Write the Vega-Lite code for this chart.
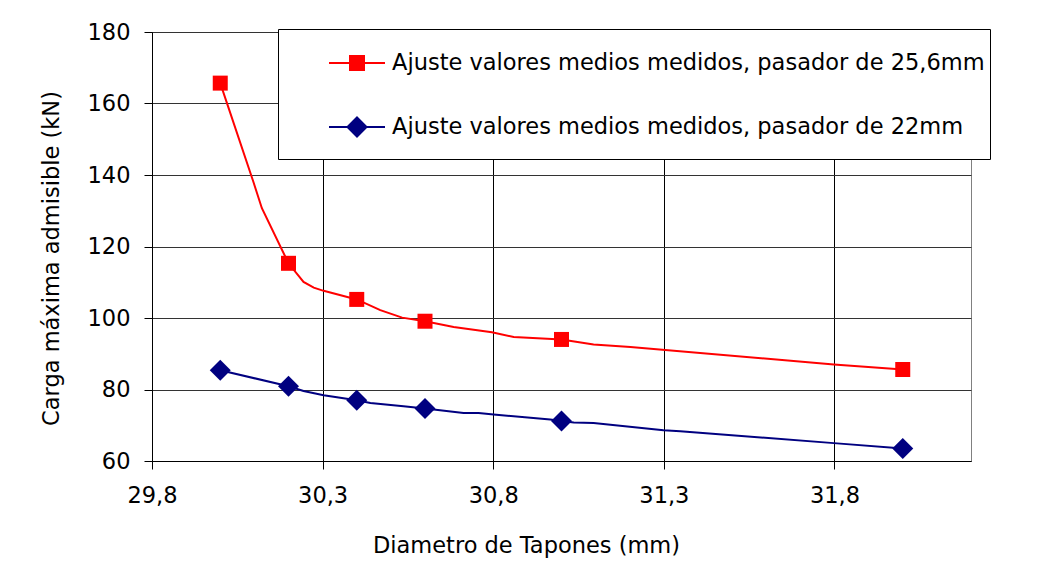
{
  "$schema": "https://vega.github.io/schema/vega-lite/v6.json",
  "width": 819,
  "height": 429,
  "autosize": {"type": "none"},
  "padding": {"left": 152, "top": 32, "right": 68, "bottom": 122},
  "background": "white",
  "config": {
    "font": "DejaVu Sans",
    "view": {"stroke": "#808080", "strokeWidth": 1},
    "axis": {
      "labelFont": "DejaVu Sans",
      "labelFontSize": 22.5,
      "labelColor": "black",
      "titleFont": "DejaVu Sans",
      "titleFontSize": 22.5,
      "titleFontWeight": "normal",
      "titleColor": "black",
      "domainColor": "black",
      "tickColor": "black",
      "gridColor": "black",
      "gridOpacity": 1,
      "tickSize": 8
    }
  },
  "datasets": {
    "curve": [
      {"series": "Ajuste valores medios medidos, pasador de 25,6mm", "d": 30.0, "carga": 165.7},
      {"series": "Ajuste valores medios medidos, pasador de 25,6mm", "d": 30.097, "carga": 138.1},
      {"series": "Ajuste valores medios medidos, pasador de 25,6mm", "d": 30.122, "carga": 130.7},
      {"series": "Ajuste valores medios medidos, pasador de 25,6mm", "d": 30.2, "carga": 115.3},
      {"series": "Ajuste valores medios medidos, pasador de 25,6mm", "d": 30.244, "carga": 110.1},
      {"series": "Ajuste valores medios medidos, pasador de 25,6mm", "d": 30.274, "carga": 108.5},
      {"series": "Ajuste valores medios medidos, pasador de 25,6mm", "d": 30.303, "carga": 107.6},
      {"series": "Ajuste valores medios medidos, pasador de 25,6mm", "d": 30.4, "carga": 105.2},
      {"series": "Ajuste valores medios medidos, pasador de 25,6mm", "d": 30.469, "carga": 102.2},
      {"series": "Ajuste valores medios medidos, pasador de 25,6mm", "d": 30.533, "carga": 100.1},
      {"series": "Ajuste valores medios medidos, pasador de 25,6mm", "d": 30.6, "carga": 99.1},
      {"series": "Ajuste valores medios medidos, pasador de 25,6mm", "d": 30.684, "carga": 97.5},
      {"series": "Ajuste valores medios medidos, pasador de 25,6mm", "d": 30.796, "carga": 96.0},
      {"series": "Ajuste valores medios medidos, pasador de 25,6mm", "d": 30.86, "carga": 94.7},
      {"series": "Ajuste valores medios medidos, pasador de 25,6mm", "d": 31.0, "carga": 94.0},
      {"series": "Ajuste valores medios medidos, pasador de 25,6mm", "d": 31.094, "carga": 92.6},
      {"series": "Ajuste valores medios medidos, pasador de 25,6mm", "d": 31.202, "carga": 91.9},
      {"series": "Ajuste valores medios medidos, pasador de 25,6mm", "d": 31.798, "carga": 87.0},
      {"series": "Ajuste valores medios medidos, pasador de 25,6mm", "d": 32.0, "carga": 85.6},
      {"series": "Ajuste valores medios medidos, pasador de 22mm", "d": 30.0, "carga": 85.4},
      {"series": "Ajuste valores medios medidos, pasador de 22mm", "d": 30.2, "carga": 80.9},
      {"series": "Ajuste valores medios medidos, pasador de 22mm", "d": 30.244, "carga": 79.6},
      {"series": "Ajuste valores medios medidos, pasador de 22mm", "d": 30.303, "carga": 78.4},
      {"series": "Ajuste valores medios medidos, pasador de 22mm", "d": 30.4, "carga": 77.0},
      {"series": "Ajuste valores medios medidos, pasador de 22mm", "d": 30.44, "carga": 76.2},
      {"series": "Ajuste valores medios medidos, pasador de 22mm", "d": 30.537, "carga": 75.3},
      {"series": "Ajuste valores medios medidos, pasador de 22mm", "d": 30.6, "carga": 74.7},
      {"series": "Ajuste valores medios medidos, pasador de 22mm", "d": 30.713, "carga": 73.4},
      {"series": "Ajuste valores medios medidos, pasador de 22mm", "d": 30.757, "carga": 73.4},
      {"series": "Ajuste valores medios medidos, pasador de 22mm", "d": 30.801, "carga": 73.0},
      {"series": "Ajuste valores medios medidos, pasador de 22mm", "d": 30.967, "carga": 71.6},
      {"series": "Ajuste valores medios medidos, pasador de 22mm", "d": 31.0, "carga": 71.2},
      {"series": "Ajuste valores medios medidos, pasador de 22mm", "d": 31.036, "carga": 70.8},
      {"series": "Ajuste valores medios medidos, pasador de 22mm", "d": 31.094, "carga": 70.6},
      {"series": "Ajuste valores medios medidos, pasador de 22mm", "d": 31.299, "carga": 68.6},
      {"series": "Ajuste valores medios medidos, pasador de 22mm", "d": 31.348, "carga": 68.3},
      {"series": "Ajuste valores medios medidos, pasador de 22mm", "d": 31.798, "carga": 65.0},
      {"series": "Ajuste valores medios medidos, pasador de 22mm", "d": 32.0, "carga": 63.5}
    ],
    "measured": [
      {"series": "Ajuste valores medios medidos, pasador de 25,6mm", "d": 30.0, "carga": 165.7},
      {"series": "Ajuste valores medios medidos, pasador de 25,6mm", "d": 30.2, "carga": 115.3},
      {"series": "Ajuste valores medios medidos, pasador de 25,6mm", "d": 30.4, "carga": 105.2},
      {"series": "Ajuste valores medios medidos, pasador de 25,6mm", "d": 30.6, "carga": 99.1},
      {"series": "Ajuste valores medios medidos, pasador de 25,6mm", "d": 31.0, "carga": 94.0},
      {"series": "Ajuste valores medios medidos, pasador de 25,6mm", "d": 32.0, "carga": 85.6},
      {"series": "Ajuste valores medios medidos, pasador de 22mm", "d": 30.0, "carga": 85.4},
      {"series": "Ajuste valores medios medidos, pasador de 22mm", "d": 30.2, "carga": 80.9},
      {"series": "Ajuste valores medios medidos, pasador de 22mm", "d": 30.4, "carga": 77.0},
      {"series": "Ajuste valores medios medidos, pasador de 22mm", "d": 30.6, "carga": 74.7},
      {"series": "Ajuste valores medios medidos, pasador de 22mm", "d": 31.0, "carga": 71.2},
      {"series": "Ajuste valores medios medidos, pasador de 22mm", "d": 32.0, "carga": 63.5}
    ]
  },
  "encoding": {
    "x": {
      "field": "d",
      "type": "quantitative",
      "title": "Diametro de Tapones (mm)",
      "scale": {"domain": [29.8, 32.2], "nice": false, "zero": false},
      "axis": {
        "values": [29.8, 30.3, 30.8, 31.3, 31.8],
        "labelExpr": "replace(format(datum.value, '.1f'), '.', ',')",
        "labelPadding": 15,
        "titlePadding": 28,
        "titleX": 374,
        "labelFlush": false,
        "grid": true,
        "gridColor": "black"
      }
    },
    "y": {
      "field": "carga",
      "type": "quantitative",
      "title": "Carga máxima admisible (kN)",
      "scale": {"domain": [60, 180], "nice": false, "zero": false},
      "axis": {
        "values": [60, 80, 100, 120, 140, 160, 180],
        "labelPadding": 14,
        "titlePadding": 24,
        "titleY": 226,
        "grid": true,
        "gridColor": "#333333",
        "labelFlush": false
      }
    },
    "color": {
      "field": "series",
      "type": "nominal",
      "scale": {
        "domain": ["Ajuste valores medios medidos, pasador de 25,6mm", "Ajuste valores medios medidos, pasador de 22mm"],
        "range": ["#ff0000", "#000080"]
      },
      "legend": {
        "orient": "none",
        "legendX": 126,
        "legendY": -3,
        "title": " ",
        "titleOrient": "bottom",
        "titleFontSize": 10,
        "titlePadding": 3,
        "fillColor": "white",
        "strokeColor": "black",
        "padding": 5,
        "labelFont": "DejaVu Sans",
        "labelFontSize": 22.5,
        "labelColor": "black",
        "labelLimit": 1000,
        "labelOffset": 6,
        "symbolSize": 3136,
        "symbolOffset": 45,
        "symbolStrokeWidth": 2,
        "symbolType": "M-1,0H1M-0.25,-0.25H0.25V0.25H-0.25Z",
        "rowPadding": 23,
        "labelExpr": "datum.label + '\u00a0\u00a0\u00a0\u00a0\u00a0\u00a0\u00a0\u00a0\u00a0\u00a0\u00a0\u00a0\u00a0\u00a0'",
        "encode": {
          "symbols": {
            "update": {
              "shape": {"signal": "indexof(datum.value, '25,6') >= 0 ? 'M-1,0H1M-0.25,-0.25H0.25V0.25H-0.25Z' : 'M-1,0H1M0,-0.34L0.34,0L0,0.34L-0.34,0Z'"},
              "fill": {"signal": "indexof(datum.value, '25,6') >= 0 ? '#ff0000' : '#000080'"},
              "stroke": {"signal": "indexof(datum.value, '25,6') >= 0 ? '#ff0000' : '#000080'"},
              "strokeWidth": {"value": 2},
              "opacity": {"value": 1}
            }
          }
        }
      }
    }
  },
  "layer": [
    {
      "data": {"name": "curve"},
      "mark": {"type": "line", "strokeWidth": 2}
    },
    {
      "data": {"name": "measured"},
      "mark": {"type": "point", "filled": true, "opacity": 1, "strokeWidth": 0},
      "encoding": {
        "shape": {
          "condition": {"test": "indexof(datum.series, '25,6') >= 0", "value": "square"},
          "value": "diamond"
        },
        "size": {
          "condition": {"test": "indexof(datum.series, '25,6') >= 0", "value": 225},
          "value": 440
        }
      }
    }
  ]
}
